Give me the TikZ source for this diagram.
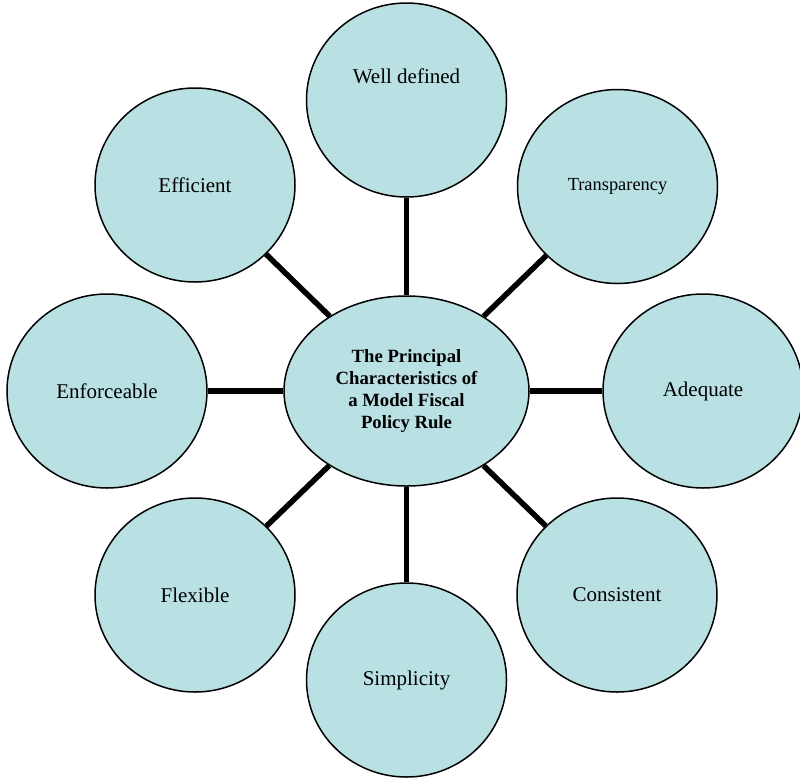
\documentclass[tikz,border=0pt]{standalone}
\usepackage{fontspec}
\setmainfont{Liberation Serif}
\usetikzlibrary{shapes.geometric}
\definecolor{bubblefill}{RGB}{185,224,227}
\begin{document}
\begin{tikzpicture}[x=1pt, y=-1pt,
        bubble/.style={ellipse, draw=black, line width=1.5pt, fill=bubblefill,
                minimum width=200pt, minimum height=194pt, inner sep=0pt,
                font=\fontsize{21}{24}\selectfont},
        hub/.style={ellipse, draw=black, line width=1.5pt, fill=bubblefill,
                minimum width=245pt, minimum height=190pt, inner sep=0pt,
                align=center, font=\fontsize{18.7}{21.7}\selectfont\bfseries},
        spoke/.style={line width=5.5pt, black}]
        \useasboundingbox (0,0) rectangle (800,777);
        \node[hub] (hub) at (406.5, 391) {The Principal\\Characteristics of\\a Model Fiscal\\Policy Rule};
        \node[bubble, label={[font=\fontsize{21}{24}\selectfont, yshift=24pt]center:Well defined}] (welldef) at (406.5, 100) {};
        \node[bubble, font=\fontsize{18.4}{21}\selectfont] (transp) at (617.5, 186.5) {Transparency};
        \node[bubble] (adequate) at (703, 391) {Adequate};
        \node[bubble] (consist) at (617, 595) {Consistent};
        \node[bubble] (simpl) at (406.5, 680) {Simplicity};
        \node[bubble] (flex) at (195, 595) {Flexible};
        \node[bubble] (enforce) at (107, 391) {Enforceable};
        \node[bubble] (effic) at (195, 185) {Efficient};
        % spokes from the hub
        \foreach \n in {welldef, transp, adequate, consist, simpl, flex, enforce, effic}
                \draw[spoke] (hub) -- (\n);
\end{tikzpicture}
\end{document}
